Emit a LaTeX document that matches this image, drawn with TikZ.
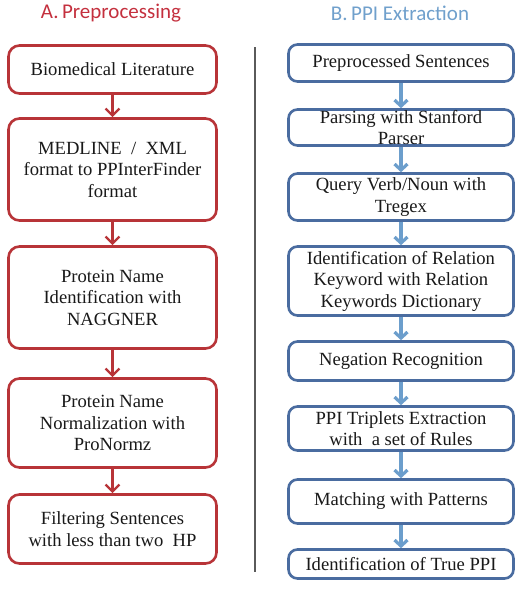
\documentclass[tikz,border=0pt]{standalone}
\usepackage{fontspec}
\setmainfont{Liberation Serif}
\newfontfamily\titlefont{Carlito}
\usetikzlibrary{arrows.meta}
\definecolor{redline}{RGB}{184,52,56}
\definecolor{redtitle}{RGB}{196,48,62}
\definecolor{blueline}{RGB}{74,108,160}
\definecolor{bluetitle}{RGB}{112,160,204}
\definecolor{bluearrow}{RGB}{108,158,204}
\definecolor{divider}{RGB}{90,90,90}
\definecolor{txt}{RGB}{25,25,25}
\tikzset{
  lbox/.style={draw=redline, line width=2.6pt, rounded corners=11pt, fill=white,
    minimum width=208pt, align=center, inner sep=1pt, text=txt,
    font=\fontsize{18.6}{21.5}\selectfont},
  rbox/.style={draw=blueline, line width=2.6pt, rounded corners=9pt, fill=white,
    minimum width=225pt, align=center, inner sep=0pt, text=txt,
    font=\fontsize{18.6}{21.5}\selectfont},
  larrow/.style={draw=redline, line width=2.4pt, -{Straight Barb[length=7pt,width=14pt,line width=2.4pt]}},
  rarrow/.style={draw=bluearrow, line width=3.2pt, -{Straight Barb[length=6pt,width=13pt,line width=3.2pt]}},
  ttl/.style={font=\titlefont\fontsize{21}{24}\selectfont}
}
\begin{document}
\begin{tikzpicture}[x=1pt,y=-1pt]
\useasboundingbox (0,0) rectangle (520,595);
\node[ttl, text=redtitle] (ta) at (111,13) {A.\,Preprocessing};
\node[ttl, text=bluetitle] (tb) at (400,13) {B.\,PPI Extraction};
\coordinate (dtop) at (255,47);
\coordinate (dbot) at (255,572);
\draw[divider, line width=1.6pt] (dtop) -- (dbot);
% left column
\node[lbox, minimum height=48pt] (a1) at (112.5,69.5) {Biomedical Literature};
\node[lbox, minimum height=102pt] (a2) at (112.5,169.5) {MEDLINE\ \ /\ \ XML\\format to PPInterFinder\\format};
\node[lbox, minimum height=102pt] (a3) at (112.5,297.5) {Protein Name\\Identification with\\NAGGNER};
\node[lbox, minimum height=89pt] (a4) at (112.5,423) {Protein Name\\Normalization with\\ProNormz};
\node[lbox, minimum height=69pt] (a5) at (112.5,529) {Filtering Sentences\\with less than two\ \ HP};
\draw[larrow] (a1) -- (a2);
\draw[larrow] (a2) -- (a3);
\draw[larrow] (a3) -- (a4);
\draw[larrow] (a4) -- (a5);
% right column
\node[rbox, minimum height=37pt] (b1) at (401,63) {Preprocessed Sentences};
\node[rbox, minimum height=36pt] (b2) at (401,127.5) {Parsing with Stanford\\Parser};
\node[rbox, minimum height=47pt] (b3) at (401,197) {Query Verb/Noun with\\Tregex};
\node[rbox, minimum height=69pt] (b4) at (401,281) {Identification of Relation\\Keyword with Relation\\Keywords Dictionary};
\node[rbox, minimum height=39pt] (b5) at (401,361) {Negation Recognition};
\node[rbox, minimum height=44pt] (b6) at (401,428.5) {PPI Triplets Extraction\\with\ \ a set of Rules};
\node[rbox, minimum height=44pt] (b7) at (401,501.5) {Matching with Patterns};
\node[rbox, minimum height=29pt] (b8) at (401,564) {Identification of True PPI};
\draw[rarrow] (b1) -- (b2);
\draw[rarrow] (b2) -- (b3);
\draw[rarrow] (b3) -- (b4);
\draw[rarrow] (b4) -- (b5);
\draw[rarrow] (b5) -- (b6);
\draw[rarrow] (b6) -- (b7);
\draw[rarrow] (b7) -- (b8);
\end{tikzpicture}
\end{document}
